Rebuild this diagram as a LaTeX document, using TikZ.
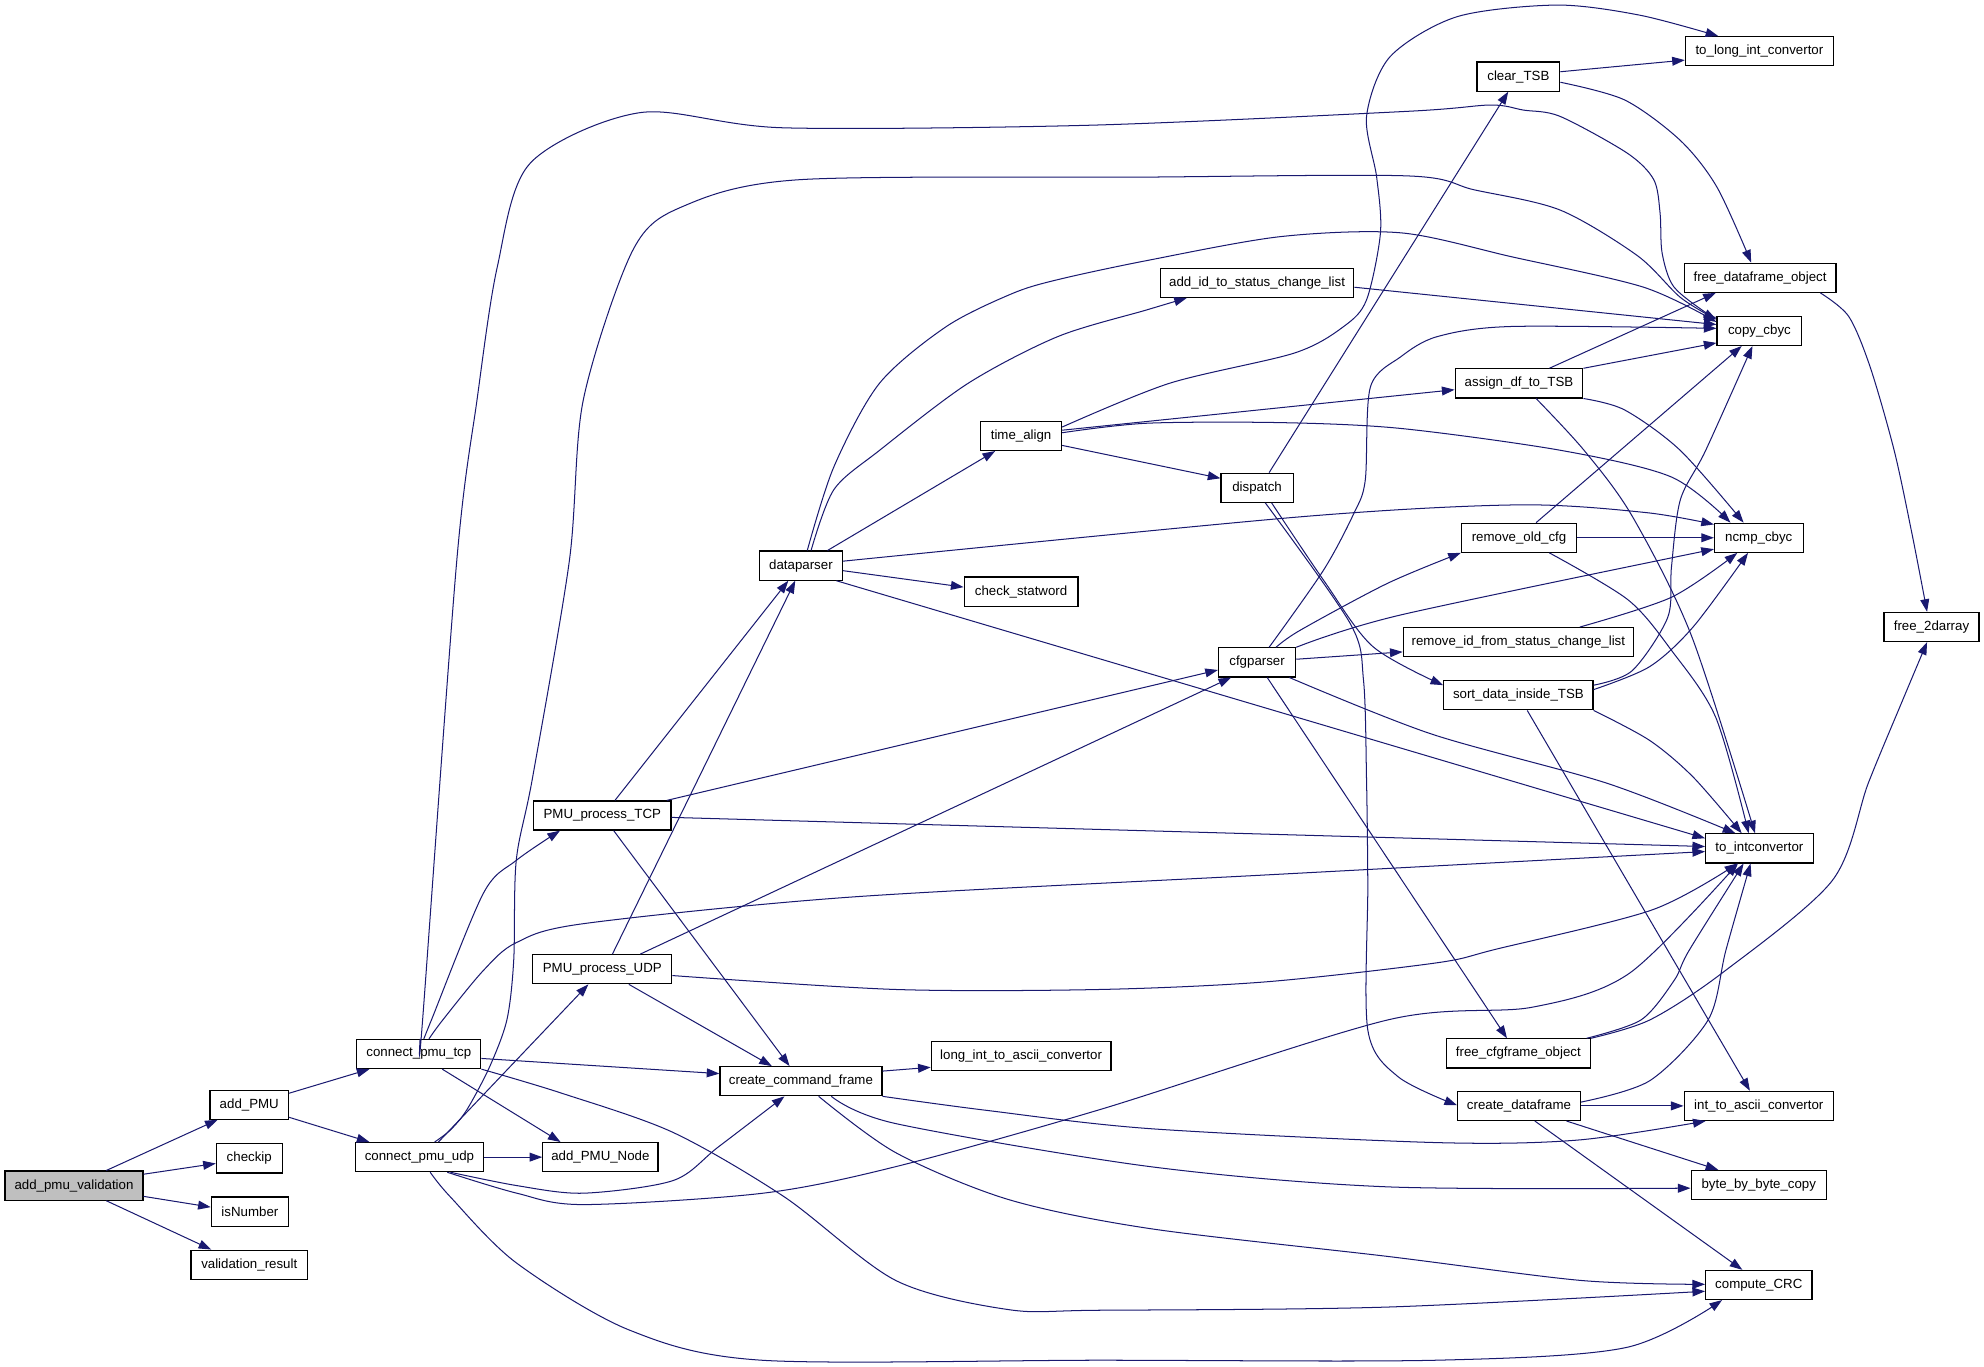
\documentclass[tikz,border=0pt]{standalone}
\usepackage{fontspec}
\setmainfont{Liberation Sans}
\usetikzlibrary{arrows.meta}
\definecolor{mb}{HTML}{191970}
\definecolor{rootgray}{HTML}{BFBFBF}
\begin{document}
\begin{tikzpicture}[x=1pt,y=-1pt,
  fn/.style={draw=black, fill=white, line width=0.9pt, minimum height=23pt, inner sep=0pt, font=\fontsize{10.5}{12}\selectfont},
  rootfn/.style={fn, fill=rootgray},
  e/.style={draw=mb, line width=0.8pt, -{Triangle[length=10pt,width=7pt]}}]
\fill[white] (0,0) rectangle (1568,1079.6);
\useasboundingbox (0,0) rectangle (1568,1079.6);
% nodes
\node[rootfn, minimum width=109] (apv) at (58.5,937) {add\_pmu\_validation};
\node[fn, minimum width=62] (addPMU) at (197,873) {add\_PMU};
\node[fn, minimum width=52] (checkip) at (197,915.5) {checkip};
\node[fn, minimum width=61] (isNumber) at (197.5,957.5) {isNumber};
\node[fn, minimum width=92] (valres) at (197,999.5) {validation\_result};
\node[fn, minimum width=98] (cpt) at (331,833) {connect\_pmu\_tcp};
\node[fn, minimum width=101] (cpu) at (331.5,914.5) {connect\_pmu\_udp};
\node[fn, minimum width=91] (addnode) at (474.5,914.5) {add\_PMU\_Node};
\node[fn, minimum width=108.5] (ptcp) at (476,644.5) {PMU\_process\_TCP};
\node[fn, minimum width=110] (pudp) at (476,766) {PMU\_process\_UDP};
\node[fn, minimum width=128] (ccf) at (633,854.5) {create\_command\_frame};
\node[fn, minimum width=142] (litoa) at (807,834.5) {long\_int\_to\_ascii\_convertor};
\node[fn, minimum width=65.5] (dp) at (633,447) {dataparser};
\node[fn, minimum width=90] (csw) at (807,467.5) {check\_statword};
\node[fn, minimum width=64] (ta) at (807,344.5) {time\_align};
\node[fn, minimum width=153] (addid) at (993.5,223.5) {add\_id\_to\_status\_change\_list};
\node[fn, minimum width=57] (disp) at (993.5,385.5) {dispatch};
\node[fn, minimum width=61] (cfg) at (993.5,523.5) {cfgparser};
\node[fn, minimum width=65.5] (clr) at (1200,60.5) {clear\_TSB};
\node[fn, minimum width=117] (tlic) at (1390.5,40.5) {to\_long\_int\_convertor};
\node[fn, minimum width=120] (fdo) at (1391,219.5) {free\_dataframe\_object};
\node[fn, minimum width=67] (cc) at (1390.5,261.5) {copy\_cbyc};
\node[fn, minimum width=101] (adf) at (1200.5,303) {assign\_df\_to\_TSB};
\node[fn, minimum width=91] (roc) at (1200.5,425) {remove\_old\_cfg};
\node[fn, minimum width=70] (ncmp) at (1390,425) {ncmp\_cbyc};
\node[fn, minimum width=182] (rid) at (1200,507.5) {remove\_id\_from\_status\_change\_list};
\node[fn, minimum width=118] (sdt) at (1200,549.5) {sort\_data\_inside\_TSB};
\node[fn, minimum width=75] (f2d) at (1526.5,495.5) {free\_2darray};
\node[fn, minimum width=85] (tic) at (1390.5,670.5) {to\_intconvertor};
\node[fn, minimum width=114] (fcfg) at (1200,832.5) {free\_cfgframe\_object};
\node[fn, minimum width=97] (cdf) at (1200.5,874) {create\_dataframe};
\node[fn, minimum width=118] (itoa) at (1390,874) {int\_to\_ascii\_convertor};
\node[fn, minimum width=107] (bbc) at (1390,936.5) {byte\_by\_byte\_copy};
\node[fn, minimum width=84] (crc) at (1390,1015.5) {compute\_CRC};
% edges
\draw[e] ([xshift=25.5]apv.north) -- ([xshift=-25]addPMU.south);
\draw[e] ([yshift=9]apv.east) -- ([yshift=-4]checkip.west);
\draw[e] ([yshift=-8.5]apv.east) -- ([yshift=3.5]isNumber.west);
\draw[e] ([xshift=25.5]apv.south) -- ([xshift=-30]valres.north);
\draw[e] ([yshift=9]addPMU.east) -- ([xshift=-39]cpt.south);
\draw[e] ([yshift=-10]addPMU.east) -- ([xshift=-39.5]cpu.north);
\draw[e] (cpu.east) -- (addnode.west);
\draw[e] ([xshift=18.5]cpt.south) -- ([xshift=-31.5]addnode.north);
\draw[e] ([yshift=-3.5]cpt.east) -- ([yshift=6]ccf.west);
\draw[e] plot[smooth] coordinates {(cpt.south east) (444,864) (532,895) (620,946) (708,1012) (797,1035) (869,1035.5) (1096,1033) ([yshift=-5]crc.west)};
\draw[e] plot[smooth] coordinates {([xshift=4]cpt.north) (341,806) (382,706) (408,680) ([xshift=-33.4]ptcp.south)};
\draw[e] plot[smooth] coordinates {([xshift=8]cpt.north) (350,806) (382,767) (408,745) (461,730) (672,709) (1000,691.5) ([yshift=-2.5]tic.west)};
\draw[e] plot[smooth] coordinates {([xshift=1]cpt.north) (334,806) (361,443) (377,316) (393,211) (419,129) (506,89) (619,101) (860,99) (1112,88) (1178,83) (1204,87) (1233,92) (1286,121) (1307,142) (1312,168.6) (1313.6,200) (1322.8,226.6) (1349,247.7) ([yshift=11]cc.west)};
\draw[e] plot[smooth] coordinates {([xshift=12]cpu.north) (356,893) (369,877) (387,843) (400.6,806) (406,759) (408,680) (421,614) (450,443) (461,316) (500,198) (540,163) (632,142) (900,140) (1112,139) (1165,150) (1233,166) (1294,202) (1328,235) ([yshift=9]cc.west)};
\draw[e] ([xshift=15]cpu.north) -- ([xshift=-11]pudp.south);
\draw[e] plot[smooth] coordinates {([xshift=24.5]cpu.south) (408.5,937) (461,943) (532,933) (567.5,906.6) ([xshift=-13]ccf.south)};
\draw[e] plot[smooth] coordinates {([xshift=22]cpu.south) (408.5,943) (461,952) (603,943) (708,922) (869,877) (1097,806) (1211,796) (1288,769) ([xshift=-17]tic.south)};
\draw[e] plot[smooth] coordinates {([xshift=8.5]cpu.south) (356,946) (408,998) (497,1051) (602,1075) (869,1075) (1135,1075) (1285,1065) ([xshift=-29]crc.south)};
\draw[e] ([xshift=10]ptcp.north) -- ([xshift=-10]dp.south);
\draw[e] ([xshift=8]pudp.north) -- ([xshift=-4.5]dp.south);
\draw[e] ([xshift=51]ptcp.north) -- ([yshift=-6]cfg.west);
\draw[e] ([xshift=30]pudp.north) -- ([xshift=-20.5]cfg.south);
\draw[e] ([yshift=-1.5]ptcp.east) -- ([yshift=1.5]tic.west);
\draw[e] plot[smooth] coordinates {([yshift=-5]pudp.east) (708,782) (869,782) (1000,776) (1135,761) (1183,750) (1306,719) ([xshift=-17.5]tic.south)};
\draw[e] ([xshift=9]ptcp.south) -- ([xshift=-9]ccf.north);
\draw[e] ([xshift=21]pudp.south) -- ([xshift=-23]ccf.north);
\draw[e] ([yshift=8]ccf.east) -- ([yshift=-9]litoa.west);
\draw[e] plot[smooth] coordinates {(ccf.south east) (779.5,877.5) (909,892) (1135,903) (1247,901) ([xshift=-42]itoa.south)};
\draw[e] plot[smooth] coordinates {([xshift=24]ccf.south) (708,888) (909,922) (1097,938) ([yshift=-2.5]bbc.west)};
\draw[e] plot[smooth] coordinates {([xshift=14]ccf.south) (708,911) (797,948) (909,971) (1097,993) (1250,1012) ([yshift=0.5]crc.west)};
\draw[e] plot[smooth] coordinates {([xshift=8]dp.north) (659,387) (695,356) (765,303) (836,266) (906,245) ([xshift=-55.5]addid.south)};
\draw[e] plot[smooth] coordinates {([xshift=5]dp.north) (659,369) (695,303) (748,258) (800,232) (836,221) (906,206) (1012,187) (1107,184) (1195,203) (1299,227) ([yshift=7]cc.west)};
\draw[e] ([xshift=21]dp.north) -- ([xshift=-20.5]ta.south);
\draw[e] ([yshift=-4]dp.east) -- ([yshift=3.5]csw.west);
\draw[e] plot[smooth] coordinates {([yshift=3.5]dp.east) (1027,408.5) (1200,399) (1300,405) ([yshift=10.5]ncmp.west)};
\draw[e] ([xshift=28]dp.south) -- ([yshift=8]tic.west);
\draw[e] plot[smooth] coordinates {([yshift=7]ta.east) (924,303) (1023,279) (1062,258) (1080,237) (1091,184) (1088,140) (1080,92) (1098.6,44.8) (1151.5,13.2) (1230.5,4) (1296,12) ([xshift=-32.5]tlic.north)};
\draw[e] ([yshift=4.5]ta.east) -- ([yshift=-5]adf.west);
\draw[e] plot[smooth] coordinates {([yshift=2.5]ta.east) (906,334.5) (1012,334) (1107,338.6) (1234,356) (1321,377) ([xshift=-22.4]ncmp.north)};
\draw[e] ([yshift=-7.5]ta.east) -- ([yshift=7.5]disp.west);
\draw[e] ([xshift=9.5]disp.north) -- ([xshift=-8]clr.south);
\draw[e] plot[smooth] coordinates {([xshift=11.5]disp.south) (1046,458.5) (1085,511) ([yshift=8]sdt.west)};
\draw[e] plot[smooth] coordinates {([xshift=6.5]disp.south) (1067,492.6) (1077.6,537.6) (1080,616.6) (1081,700) (1081,814) (1105,851) ([yshift=0.5]cdf.west)};
\draw[e] plot[smooth] coordinates {([xshift=9.5]cfg.north) (1046,450.6) (1070,405.7) (1079,379.4) (1083,306) (1107,282) (1136,266) (1195,258) ([yshift=2]cc.west)};
\draw[e] plot[smooth] coordinates {([xshift=15]cfg.north) (1027.7,498) (1096.6,461) (roc.south west)};
\draw[e] plot[smooth] coordinates {(cfg.north east) (1107,486) ([yshift=-9]ncmp.west)};
\draw[e] ([yshift=2.5]cfg.east) -- ([yshift=-7.7]rid.west);
\draw[e] plot[smooth] coordinates {([xshift=25.5]cfg.south) (1131,580) (1270,619) ([xshift=-19]tic.north)};
\draw[e] ([xshift=8]cfg.south) -- ([xshift=-9]fcfg.north);
\draw[e] ([yshift=-3.5]addid.east) -- ([yshift=5]cc.west);
\draw[e] ([yshift=3.8]clr.east) -- ([yshift=-7]tlic.west);
\draw[e] plot[smooth] coordinates {([yshift=-4.5]clr.east) (1284,79) (1328,111) (1357,148) ([xshift=-7]fdo.north)};
\draw[e] ([xshift=24]adf.north) -- ([xshift=-35]fdo.south);
\draw[e] (adf.north east) -- ([yshift=-9.5]cc.west);
\draw[e] plot[smooth] coordinates {(adf.south east) (1284,324) (1328,356) ([xshift=-12]ncmp.north)};
\draw[e] plot[smooth] coordinates {([xshift=13.5]adf.south) (1252,356) (1290,408) (1337,503) ([xshift=-3.5]tic.north)};
\draw[e] ([xshift=13.5]roc.north) -- ([xshift=-14]cc.south);
\draw[e] (roc.east) -- (ncmp.west);
\draw[e] plot[smooth] coordinates {([xshift=24]roc.south) (1286.6,474) (1321,514) (1356,567) ([xshift=-8.5]tic.north)};
\draw[e] plot[smooth] coordinates {([xshift=48.6]rid.north) (1321,472) ([xshift=-17]ncmp.south)};
\draw[e] plot[smooth] coordinates {([yshift=8]sdt.east) (1290,530) (1318,488) (1321,448) (1328,395) (1348,356) ([xshift=-5.5]cc.south)};
\draw[e] plot[smooth] coordinates {([yshift=4.5]sdt.east) (1303.5,527) (1338,495.6) ([xshift=-8.5]ncmp.south)};
\draw[e] plot[smooth] coordinates {(sdt.south east) (1303.5,585) (1338,614) ([xshift=-14]tic.north)};
\draw[e] ([xshift=7]sdt.south) -- ([xshift=-7]itoa.north);
\draw[e] plot[smooth] coordinates {([xshift=47.6]fdo.south) (1461,250) (1478,290) (1497,356) (1511,421.5) ([xshift=-3.5]f2d.north)};
\draw[e] plot[smooth] coordinates {(fcfg.north east) (1304,806) (1361,769) (1448,696) (1476.5,619) (1503,555) ([xshift=-3.5]f2d.south)};
\draw[e] plot[smooth] coordinates {([xshift=54]fcfg.north) (1297,806) (1323,775) (1335,751) ([xshift=-12.5]tic.south)};
\draw[e] plot[smooth] coordinates {([yshift=3]cdf.east) (1304,854) (1350,806) (1364,751) ([xshift=-7]tic.south)};
\draw[e] (cdf.east) -- (itoa.west);
\draw[e] ([xshift=37.5]cdf.south) -- ([xshift=-32]bbc.north);
\draw[e] ([xshift=12.5]cdf.south) -- ([xshift=-13]crc.north);
\end{tikzpicture}
\end{document}
